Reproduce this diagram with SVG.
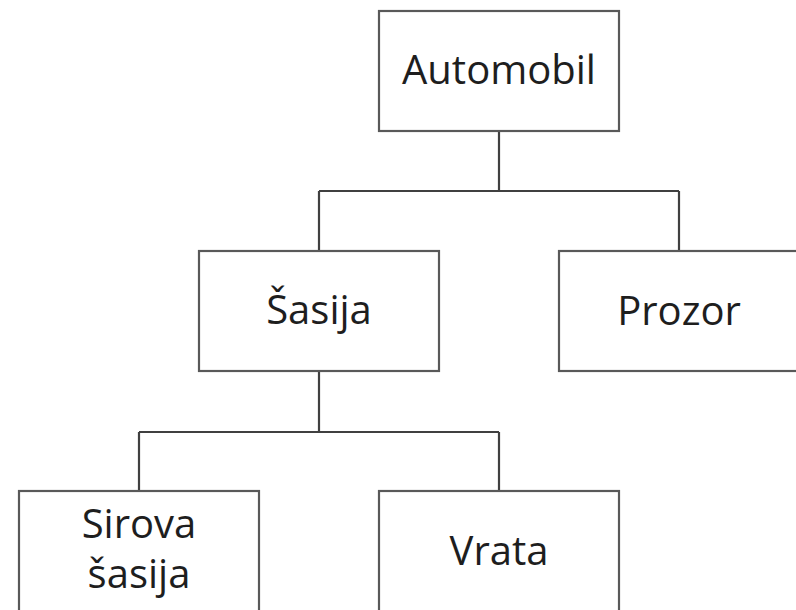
<svg xmlns="http://www.w3.org/2000/svg" width="796" height="610" viewBox="0 0 796 610">
  <style>
    .box { fill: #ffffff; stroke: #595959; stroke-width: 2.2; }
    .link { fill: none; stroke: #404040; stroke-width: 2.2; }
    .label { font-family: "Open Sans", "Noto Sans", "Liberation Sans", sans-serif; font-size: 40px; fill: #1e1e1e; text-anchor: middle; }
  </style>
  <rect width="796" height="610" fill="#ffffff"/>
  <g id="connectors">
    <path class="link" d="M499 131 V191 M319 191 H679 M319 191 V251 M679 191 V251"/>
    <path class="link" d="M319 371 V432 M139 432 H499 M139 432 V491 M499 432 V491"/>
  </g>
  <g id="automobil">
    <rect class="box" x="379" y="11" width="240" height="120"/>
    <text class="label" x="499" y="84">Automobil</text>
  </g>
  <g id="sasija">
    <rect class="box" x="199" y="251" width="240" height="120"/>
    <text class="label" x="319" y="324">Šasija</text>
  </g>
  <g id="prozor">
    <rect class="box" x="559" y="251" width="240" height="120"/>
    <text class="label" x="679" y="325">Prozor</text>
  </g>
  <g id="sirova-sasija">
    <rect class="box" x="19" y="491" width="240" height="122"/>
    <text class="label" x="139" y="538">Sirova</text>
    <text class="label" x="139" y="588">šasija</text>
  </g>
  <g id="vrata">
    <rect class="box" x="379" y="491" width="240" height="122"/>
    <text class="label" x="499" y="565">Vrata</text>
  </g>
</svg>
